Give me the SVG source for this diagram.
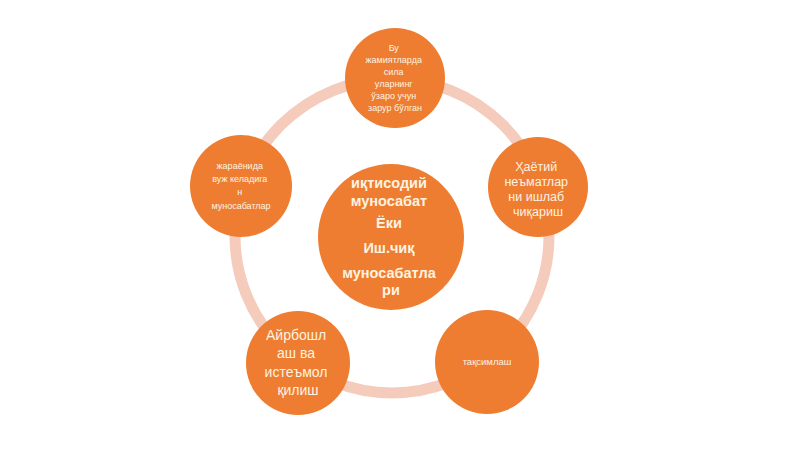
<svg xmlns="http://www.w3.org/2000/svg" width="800" height="449" viewBox="0 0 800 449">
<style>
.n{fill:#ee7d31}
.t{font-family:"Liberation Sans","Open Sans",sans-serif;fill:#fdf3e0;text-anchor:middle}
.ring{fill:none;stroke:#f5cbbb;stroke-width:11}
</style>
<rect width="800" height="449" fill="#ffffff"/>
<g id="connectors">
<circle class="ring" cx="392" cy="236" r="157"/>
</g>
<g id="center">
<circle class="n" cx="391" cy="237" r="73"/>
<text class="t" font-size="14.5" font-weight="bold">
<tspan x="391" y="188">иқтисодий</tspan>
<tspan x="391" y="206">муносабат</tspan>
<tspan x="391" y="228">Ёки</tspan>
<tspan x="391" y="253">Иш.чиқ</tspan>
<tspan x="391" y="278">муносабатла</tspan>
<tspan x="391" y="295">ри</tspan>
</text>
</g>
<g id="top">
<circle class="n" cx="395" cy="78" r="50"/>
<text class="t" font-size="9">
<tspan x="395" y="51">Бу</tspan>
<tspan x="395" y="63">жамиятларда</tspan>
<tspan x="395" y="75">сила</tspan>
<tspan x="395" y="87">уларнинг</tspan>
<tspan x="395" y="99">ўзаро учун</tspan>
<tspan x="395" y="111">зарур бўлган</tspan>
</text>
</g>
<g id="right">
<circle class="n" cx="538" cy="187" r="50"/>
<text class="t" font-size="12.5">
<tspan x="538" y="171">Ҳаётий</tspan>
<tspan x="538" y="186">неъматлар</tspan>
<tspan x="538" y="201">ни ишлаб</tspan>
<tspan x="538" y="216">чиқариш</tspan>
</text>
</g>
<g id="bottomright">
<circle class="n" cx="487" cy="362" r="52"/>
<text class="t" font-size="9.5">
<tspan x="487" y="365">тақсимлаш</tspan>
</text>
</g>
<g id="bottomleft">
<circle class="n" cx="298" cy="363" r="52"/>
<text class="t" font-size="14">
<tspan x="298" y="340">Айрбошл</tspan>
<tspan x="298" y="358">аш ва</tspan>
<tspan x="298" y="377">истеъмол</tspan>
<tspan x="298" y="395">қилиш</tspan>
</text>
</g>
<g id="left">
<circle class="n" cx="241" cy="186" r="51"/>
<text class="t" font-size="9">
<tspan x="241" y="169">жараёнида</tspan>
<tspan x="241" y="182">вуж келадига</tspan>
<tspan x="241" y="195">н</tspan>
<tspan x="241" y="209">муносабатлар</tspan>
</text>
</g>
</svg>
